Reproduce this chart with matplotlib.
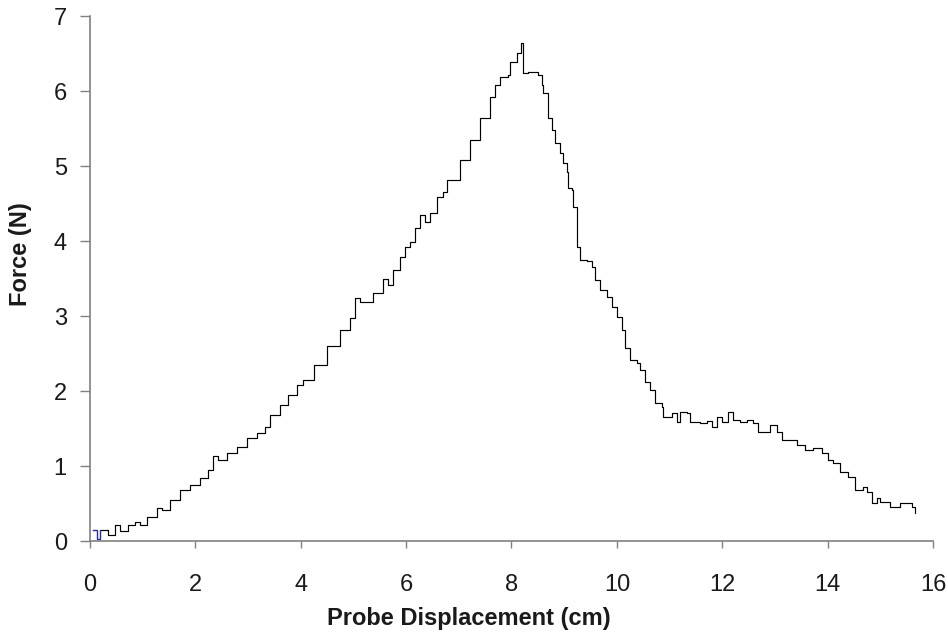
import matplotlib
matplotlib.use("Agg")
import matplotlib.pyplot as plt

plt.rcParams['font.family'] = ['Liberation Sans', 'DejaVu Sans']

displacement = [0.06, 0.14, 0.19, 0.34, 0.47, 0.57, 0.72, 0.85, 0.95, 1.08, 1.27, 1.37, 1.52,
                1.71, 1.90, 2.09, 2.24, 2.34, 2.43, 2.60, 2.79, 2.98, 3.17, 3.32, 3.42, 3.61,
                3.76, 3.93, 4.04, 4.25, 4.50, 4.74, 4.93, 5.03, 5.12, 5.37, 5.56, 5.66, 5.75,
                5.88, 5.98, 6.07, 6.17, 6.26, 6.36, 6.45, 6.59, 6.70, 6.78, 7.02, 7.21, 7.40,
                7.59, 7.69, 7.78, 7.94, 7.97, 8.10, 8.18, 8.22, 8.31, 8.41, 8.50, 8.58, 8.60,
                8.67, 8.69, 8.77, 8.83, 8.92, 8.98, 9.05, 9.07, 9.15, 9.17, 9.24, 9.25, 9.30,
                9.43, 9.52, 9.58, 9.68, 9.81, 9.91, 10.00, 10.10, 10.15, 10.25, 10.38, 10.44,
                10.53, 10.63, 10.72, 10.85, 10.88, 11.04, 11.14, 11.20, 11.33, 11.39, 11.58,
                11.71, 11.80, 11.90, 11.99, 12.11, 12.20, 12.34, 12.47, 12.59, 12.68, 12.84,
                12.91, 13.03, 13.13, 13.28, 13.41, 13.57, 13.72, 13.89, 14.01, 14.10, 14.23,
                14.39, 14.52, 14.67, 14.74, 14.84, 14.94, 14.99, 15.18, 15.37, 15.60, 15.66]
force = [0.15, 0.03, 0.15, 0.08, 0.21, 0.14, 0.21, 0.26, 0.21, 0.32, 0.44, 0.41, 0.55,
         0.68, 0.75, 0.84, 0.95, 1.13, 1.08, 1.17, 1.25, 1.37, 1.44, 1.52, 1.68, 1.81,
         1.95, 2.08, 2.15, 2.35, 2.60, 2.81, 2.97, 3.24, 3.19, 3.31, 3.49, 3.41, 3.61,
         3.79, 3.92, 3.99, 4.17, 4.35, 4.25, 4.37, 4.59, 4.65, 4.81, 5.08, 5.35, 5.64,
         5.92, 6.08, 6.19, 6.21, 6.39, 6.51, 6.64, 6.24, 6.25, 6.25, 6.21, 6.08, 5.97,
         5.97, 5.64, 5.48, 5.31, 5.17, 5.04, 4.92, 4.71, 4.68, 4.45, 4.37, 3.92, 3.75,
         3.73, 3.65, 3.48, 3.35, 3.25, 3.12, 2.99, 2.81, 2.57, 2.41, 2.37, 2.28,
         2.12, 2.01, 1.84, 1.79, 1.65, 1.71, 1.59, 1.72, 1.71, 1.59, 1.57,
         1.60, 1.52, 1.65, 1.59, 1.72, 1.61, 1.59, 1.61, 1.57, 1.45, 1.45,
         1.55, 1.45, 1.35, 1.35, 1.28, 1.21, 1.24, 1.17, 1.08, 1.04, 0.92,
         0.85, 0.68, 0.72, 0.65, 0.51, 0.57, 0.52, 0.45, 0.51, 0.45, 0.37]

x_ticks = [0, 2, 4, 6, 8, 10, 12, 14, 16]
y_ticks = [0, 1, 2, 3, 4, 5, 6, 7]

fig = plt.figure(figsize=(9.48, 6.33), dpi=100)
ax = fig.add_axes([0.0949, 0.1453, 0.8893, 0.8294])

ax.plot(displacement, force, color='black', lw=0.85, drawstyle='steps-post')
ax.plot(displacement[:3], force[:3], color='#2a2aa0', lw=0.85, drawstyle='steps-post')

ax.set_xlim(0, 16)
ax.set_ylim(0, 7)
ax.set_xticks(x_ticks)
ax.set_yticks(y_ticks)
ax.tick_params(axis='both', labelsize=17, colors='#808080', labelcolor='#1a1a1a',
               width=1, direction='out')
ax.tick_params(axis='x', length=5, pad=19)
ax.tick_params(axis='y', length=7.2, pad=9.5)

for s in ['top', 'right']:
    ax.spines[s].set_visible(False)
for s in ['left', 'bottom']:
    ax.spines[s].set_color('#808080')
    ax.spines[s].set_linewidth(1.2)

ax.set_xlabel('Probe Displacement (cm)', fontsize=17, fontweight='bold', color='#1a1a1a')
ax.set_ylabel('Force (N)', fontsize=17, fontweight='bold', color='#1a1a1a')
ax.xaxis.set_label_coords(0.449, -0.126)
ax.yaxis.set_label_coords(-0.069, 0.547)

fig.savefig('out.png', dpi=100)
